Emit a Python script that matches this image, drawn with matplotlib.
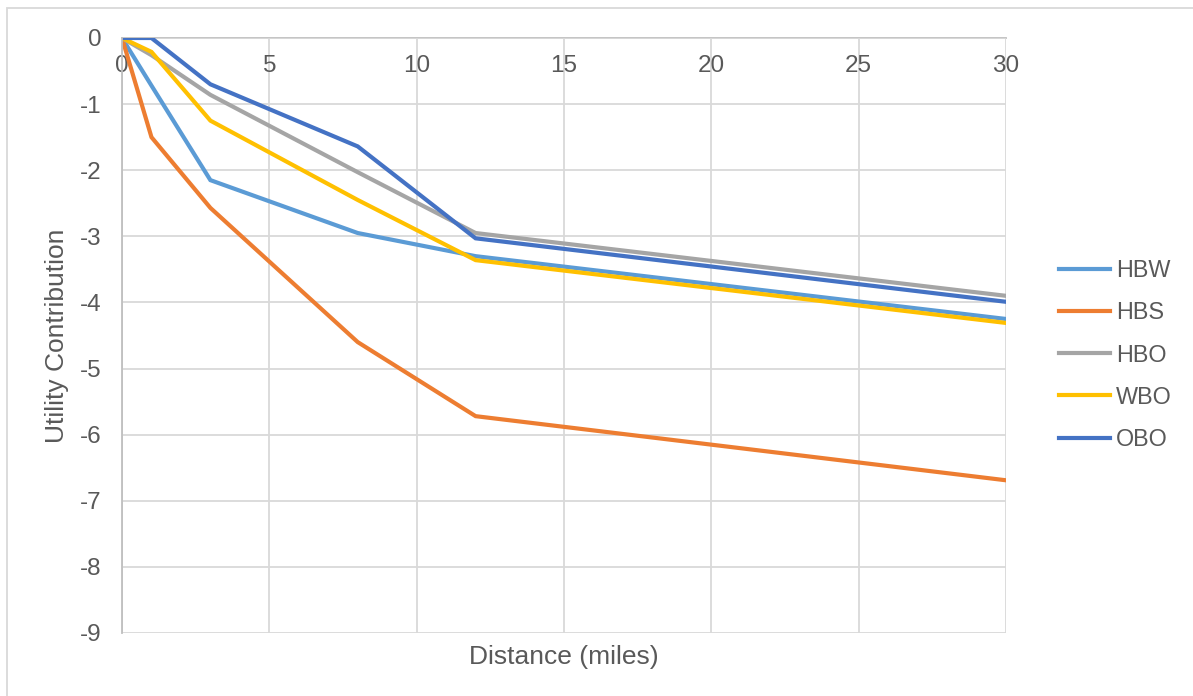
import numpy as np

import matplotlib
matplotlib.use('Agg')

import matplotlib.pyplot as plt
from matplotlib.patches import Rectangle

plt.rcParams['font.family'] = ['Liberation Sans', 'DejaVu Sans']

# distance points (miles)
distance = [0, 1, 3, 8, 12, 30]

hbw = [0, -0.72, -2.15, -2.95, -3.30, -4.25]
hbs = [0, -1.50, -2.57, -4.60, -5.72, -6.69]
hbo = [0, -0.26, -0.86, -2.03, -2.95, -3.90]
wbo = [0, -0.21, -1.25, -2.45, -3.36, -4.31]
obo = [0, 0.0, -0.70, -1.64, -3.03, -3.99]

series = [("HBW", hbw, "#5B9BD5"),
          ("HBS", hbs, "#ED7D31"),
          ("HBO", hbo, "#A5A5A5"),
          ("WBO", wbo, "#FFC000"),
          ("OBO", obo, "#4472C4")]

xticks = [0, 5, 10, 15, 20, 25, 30]
yticks = [0, -1, -2, -3, -4, -5, -6, -7, -8, -9]

text_color = "#595959"

fig = plt.figure(figsize=(11.93, 6.96), dpi=100)
ax = fig.add_axes([122 / 1193.0, 1 - 633 / 696.0, (1006 - 122) / 1193.0, (633 - 38) / 696.0])

for name, values, color in series:
    ax.plot(distance, values, color=color, lw=3, label=name, solid_joinstyle="miter")

ax.set_xlim(0, 30)
ax.set_ylim(-9, 0)
ax.set_xticks(xticks)
ax.set_yticks(yticks)
ax.set_yticklabels([str(v) for v in yticks])
ax.grid(True, color="#D9D9D9", lw=1.3)
ax.set_axisbelow(True)

for side in ["top", "right"]:
    ax.spines[side].set_visible(False)
ax.spines["bottom"].set_position(("data", 0))
ax.spines["bottom"].set_color("#BFBFBF")
ax.spines["left"].set_color("#BFBFBF")
ax.spines["bottom"].set_linewidth(1.3)
ax.spines["left"].set_linewidth(1.3)
ax.spines["bottom"].set_zorder(0.5)

ax.tick_params(axis="both", length=0, labelsize=17.5, colors=text_color)
ax.tick_params(axis="x", pad=12)
ax.tick_params(axis="y", pad=15)

fig.text(564 / 1193.0, 1 - 657 / 696.0, "Distance (miles)", ha="center", va="center",
         fontsize=19, color=text_color)
fig.text(57 / 1193.0, 1 - 336 / 696.0, "Utility Contribution", ha="center", va="center",
         rotation=90, fontsize=19, color=text_color)

leg = ax.legend(loc="center left", bbox_to_anchor=(1059 / 1193.0, 1 - 355 / 696.0),
                bbox_transform=fig.transFigure, frameon=False, fontsize=16.8,
                handlelength=2.2, handletextpad=0.25, labelspacing=0.82,
                borderpad=0, borderaxespad=0)
for t in leg.get_texts():
    t.set_color(text_color)

# chart area border (right/bottom edges fall outside the image)
fig.patches.append(Rectangle((7 / 1193.0, -0.05), 1.2, 1 - 8 / 696.0 + 0.05,
                             transform=fig.transFigure, fill=False,
                             edgecolor="#D9D9D9", lw=1.3))

fig.savefig("out.png", dpi=100)
plt.close()
